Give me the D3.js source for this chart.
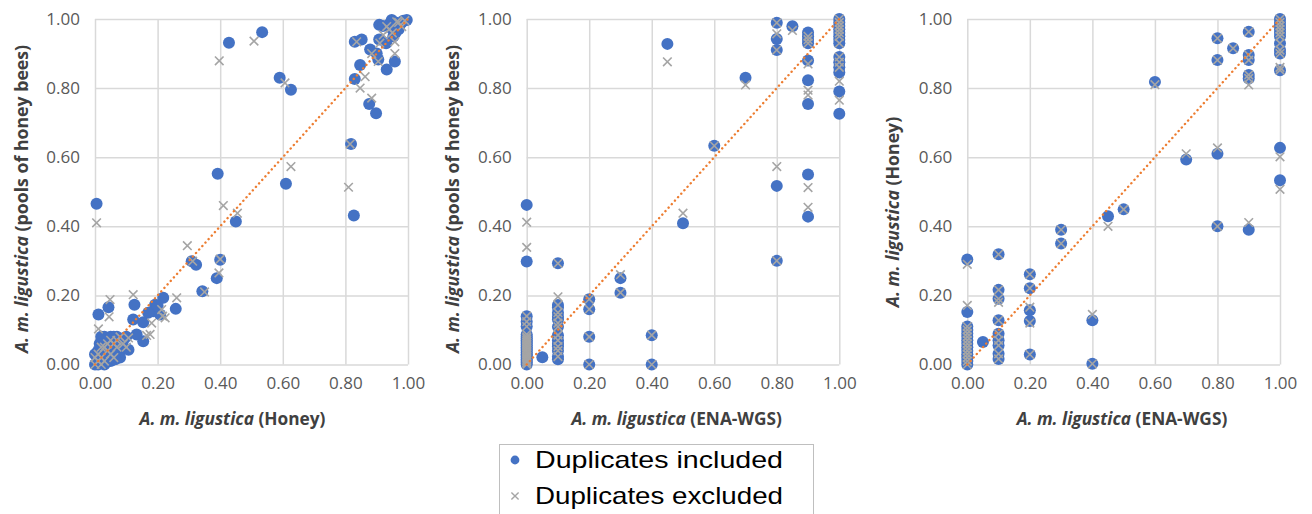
<!DOCTYPE html>
<html><head><meta charset="utf-8">
<script src="https://cdn.jsdelivr.net/npm/d3@7"></script>
<style>
html,body{margin:0;padding:0;background:#fff;}
svg{display:block;}
</style></head>
<body>
<svg id="chart" width="1312" height="514"></svg>
<script>
// ---------------- DATA ----------------
const tickValues = [0, 0.2, 0.4, 0.6, 0.8, 1.0];
const seriesNames = ["Duplicates included", "Duplicates excluded"];
const trendX = [0, 1];
const trendY = [0, 1];

const xTitles = ["(Honey)", "(ENA-WGS)", "(ENA-WGS)"];
const yTitles = ["(pools of honey bees)", "(pools of honey bees)", "(Honey)"];

// Panel 1: Honey (x) vs pools of honey bees (y)
const p1Included = [
 [0,0],[0.005,0.005],[0.01,0.01],[0.01,0.02],[0.02,0.01],[0.02,0.03],[0.03,0.02],[0.03,0.04],[0.04,0.03],[0.04,0.05],
 [0.05,0.04],[0.05,0.06],[0.06,0.05],[0.06,0.07],[0.07,0.06],[0.07,0.08],[0.08,0.07],[0.03,0.06],[0.04,0.07],[0.05,0.08],
 [0.02,0.05],[0.06,0.03],[0.08,0.04],[0.09,0.05],[0.01,0.04],[0.015,0.06],[0.03,0.08],[0.06,0.08],[0.07,0.03],[0.08,0.02],
 [0.04,0.01],[0.09,0.07],[0.1,0.08],[0,0.03],[0.01,0],[0.03,0],[0.05,0.01],[0.065,0.015],[0.02,0.08],
 [0.011,0.145],[0.043,0.166],[0.107,0.043],[0.122,0.13],[0.126,0.173],[0.133,0.087],[0.154,0.067],[0.154,0.122],
 [0.186,0.154],[0.192,0.173],[0.208,0.145],[0.218,0.193],[0.258,0.161],[0.2,0.17],[0.17,0.15],
 [0.309,0.299],[0.323,0.289],[0.343,0.212],[0.389,0.25],[0.4,0.303],[0.45,0.414],[0.392,0.552],[0.61,0.523],
 [0.827,0.431],[0.818,0.638],[0.005,0.465],[0.428,0.931],[0.534,0.962],[0.59,0.83],[0.626,0.795],
 [0.83,0.826],[0.847,0.867],[0.83,0.934],[0.852,0.941],[0.876,0.754],[0.898,0.727],[0.905,0.883],[0.879,0.912],
 [0.908,0.941],[0.908,0.983],[0.932,0.854],[0.958,0.877],[0.953,0.949],[0.964,0.968],[0.948,0.997],[0.996,0.997],
 [0.974,0.983],[0.96,0.99],[0.97,0.98],[0.98,0.99],[0.92,0.98],[0.95,0.97],[0.97,0.97],[0.9,0.9],[0.93,0.93],
 [0.96,0.96],[0.985,0.995],[0.94,0.985]
];
const p1Excluded = [
 [0,0],[0.01,0.01],[0.02,0.02],[0.03,0.01],[0.01,0.03],[0.04,0.04],[0.05,0.03],[0.03,0.05],[0.06,0.06],[0.07,0.05],
 [0.05,0.07],[0.08,0.08],[0.02,0.05],[0.06,0.02],[0.09,0.06],[0.04,0.06],[0.07,0.07],[0,0.02],[0.02,0],[0.1,0.05],
 [0.005,0.41],[0.397,0.879],[0.508,0.936],[0.607,0.815],[0.626,0.573],[0.81,0.513],[0.815,0.638],[0.41,0.46],
 [0.455,0.438],[0.295,0.344],[0.312,0.299],[0.4,0.305],[0.396,0.265],[0.35,0.21],[0.261,0.193],[0.216,0.14],
 [0.181,0.12],[0.176,0.087],[0.122,0.202],[0.048,0.188],[0.045,0.138],[0.011,0.103],[0.213,0.159],[0.224,0.135],
 [0.165,0.084],[0.107,0.077],
 [0.836,0.934],[0.921,0.954],[0.958,0.934],[0.91,0.93],[0.884,0.9],[0.905,0.877],[0.958,0.9],[0.863,0.833],
 [0.847,0.8],[0.884,0.771],[0.964,0.992],[0.98,0.978],[0.932,0.978],[0.95,0.96],[0.97,0.99],[0.99,0.995],[0.94,0.97]
];

// Panel 2: ENA-WGS (x) vs pools of honey bees (y)
const p2Included = [
 [0,0.462],[0,0.298],[0,0.14],[0,0.124],[0,0.11],[0,0.087],[0,0.08],[0,0.075],[0,0.07],[0,0.065],[0,0.06],[0,0.055],
 [0,0.05],[0,0.045],[0,0.04],[0,0.035],[0,0.03],[0,0.025],[0,0.02],[0,0.015],[0,0.01],[0,0.005],[0,0],
 [0.05,0.021],
 [0.1,0.293],[0.1,0.172],[0.1,0.165],[0.1,0.15],[0.1,0.138],[0.1,0.13],[0.1,0.109],[0.1,0.085],[0.1,0.07],[0.1,0.06],
 [0.1,0.052],[0.1,0.04],[0.1,0.023],[0.1,0.015],
 [0.2,0.189],[0.2,0.16],[0.2,0.08],[0.2,0],
 [0.3,0.25],[0.3,0.208],
 [0.4,0.085],[0.4,0],
 [0.45,0.928],[0.5,0.409],[0.6,0.633],[0.7,0.83],
 [0.8,0.989],[0.8,0.942],[0.8,0.91],[0.8,0.517],[0.8,0.3],
 [0.85,0.979],
 [0.9,0.961],[0.9,0.95],[0.9,0.94],[0.9,0.93],[0.9,0.88],[0.9,0.823],[0.9,0.754],[0.9,0.55],[0.9,0.428],
 [1,1],[1,0.99],[1,0.98],[1,0.97],[1,0.96],[1,0.95],[1,0.94],[1,0.93],[1,0.89],[1,0.875],[1,0.86],[1,0.845],
 [1,0.79],[1,0.726]
];
const p2Excluded = [
 [0,0.412],[0,0.339],[0,0.14],[0,0.124],[0,0.11],[0,0.087],[0,0.08],[0,0.075],[0,0.07],[0,0.065],[0,0.06],[0,0.055],
 [0,0.05],[0,0.045],[0,0.04],[0,0.035],[0,0.03],[0,0.025],[0,0.02],[0,0.015],[0,0.01],[0,0.005],[0,0],
 [0.1,0.293],[0.1,0.196],[0.1,0.172],[0.1,0.15],[0.1,0.138],[0.1,0.12],[0.1,0.109],[0.1,0.085],[0.1,0.07],
 [0.1,0.052],[0.1,0.04],[0.1,0.023],
 [0.2,0.189],[0.2,0.16],[0.2,0.08],[0.2,0],
 [0.3,0.26],[0.3,0.208],
 [0.4,0.085],[0.4,0],
 [0.45,0.876],[0.5,0.438],[0.6,0.633],[0.7,0.809],
 [0.8,0.989],[0.8,0.957],[0.8,0.91],[0.8,0.573],[0.8,0.3],
 [0.85,0.967],
 [0.9,0.95],[0.9,0.94],[0.9,0.93],[0.9,0.87],[0.9,0.794],[0.9,0.78],[0.9,0.512],[0.9,0.455],
 [1,1],[1,0.99],[1,0.98],[1,0.97],[1,0.96],[1,0.95],[1,0.93],[1,0.89],[1,0.875],[1,0.86],[1,0.82],[1,0.765]
];

// Panel 3: ENA-WGS (x) vs Honey (y)
const p3Included = [
 [0,0.304],[0,0.152],[0,0.11],[0,0.1],[0,0.09],[0,0.08],[0,0.07],[0,0.06],[0,0.05],[0,0.04],[0,0.03],[0,0.02],
 [0,0.01],[0,0],
 [0.05,0.065],
 [0.1,0.319],[0.1,0.216],[0.1,0.19],[0.1,0.128],[0.1,0.089],[0.1,0.07],[0.1,0.055],[0.1,0.031],[0.1,0.016],
 [0.2,0.261],[0.2,0.221],[0.2,0.157],[0.2,0.126],[0.2,0.029],
 [0.3,0.39],[0.3,0.35],
 [0.4,0.128],[0.4,0.002],
 [0.45,0.429],[0.5,0.449],[0.6,0.818],[0.7,0.593],
 [0.8,0.944],[0.8,0.881],[0.8,0.61],[0.8,0.4],
 [0.85,0.915],
 [0.9,0.963],[0.9,0.896],[0.9,0.881],[0.9,0.838],[0.9,0.828],[0.9,0.39],
 [1,1],[1,0.99],[1,0.98],[1,0.97],[1,0.96],[1,0.95],[1,0.93],[1,0.91],[1,0.9],[1,0.852],[1,0.627],[1,0.533]
];
const p3Excluded = [
 [0,0.29],[0,0.171],[0,0.11],[0,0.1],[0,0.09],[0,0.08],[0,0.07],[0,0.06],[0,0.05],[0,0.04],[0,0.03],[0,0.02],
 [0,0.01],[0,0],
 [0.1,0.319],[0.1,0.216],[0.1,0.19],[0.1,0.18],[0.1,0.128],[0.1,0.089],[0.1,0.07],[0.1,0.055],[0.1,0.031],[0.1,0.016],
 [0.2,0.261],[0.2,0.221],[0.2,0.166],[0.2,0.12],[0.2,0.029],
 [0.3,0.39],[0.3,0.35],
 [0.4,0.145],[0.4,0.002],
 [0.45,0.4],[0.5,0.449],[0.6,0.81],[0.7,0.61],
 [0.8,0.944],[0.8,0.881],[0.8,0.627],[0.8,0.4],
 [0.85,0.915],
 [0.9,0.963],[0.9,0.896],[0.9,0.881],[0.9,0.838],[0.9,0.828],[0.9,0.809],[0.9,0.411],
 [1,1],[1,0.99],[1,0.98],[1,0.97],[1,0.96],[1,0.95],[1,0.93],[1,0.91],[1,0.9],[1,0.86],[1,0.852],[1,0.601],[1,0.507]
];

// ---------------- LAYOUT / STYLE ----------------
const panels = [
  {x0: 95,    x1: 408,    inc: p1Included, exc: p1Excluded, yTitleX: 28,  yTitleY: 199, xTitleX: 232.5},
  {x0: 526.7, x1: 839.3,  inc: p2Included, exc: p2Excluded, yTitleX: 459, yTitleY: 199, xTitleX: 676.7},
  {x0: 967.3, x1: 1280,   inc: p3Included, exc: p3Excluded, yTitleX: 899, yTitleY: 212, xTitleX: 1122}
];
const yTop = 19, yBottom = 364.5;
const BLUE = "#4472c4", GREY = "#a5a5a5", ORANGE = "#ed7d31", GRID = "#d9d9d9";
const FONT = "'Open Sans', 'Noto Sans', sans-serif";

const svg = d3.select("#chart");

panels.forEach((p, i) => {
  const x = d3.scaleLinear().domain([0, 1]).range([p.x0, p.x1]);
  const y = d3.scaleLinear().domain([0, 1]).range([yBottom, yTop]);
  const g = svg.append("g");

  // gridlines + tick labels
  const gx = g.append("g").attr("transform", `translate(0,${yBottom})`)
    .call(d3.axisBottom(x).tickValues(tickValues).tickSize(-(yBottom - yTop)).tickFormat(d3.format(".2f")).tickPadding(12));
  const gy = g.append("g").attr("transform", `translate(${p.x0},0)`)
    .call(d3.axisLeft(y).tickValues(tickValues).tickSize(-(p.x1 - p.x0)).tickFormat(d3.format(".2f")).tickPadding(15));
  [gx, gy].forEach(a => {
    a.select(".domain").remove();
    a.selectAll(".tick line").attr("stroke", GRID).attr("stroke-width", 1.5);
    a.selectAll(".tick text").attr("fill", "#595959").style("font-family", FONT).style("font-size", "17px");
  });
  gx.selectAll(".tick text").attr("dy", "0.71em");

  // included (blue circles)
  g.append("g").selectAll("circle").data(p.inc).join("circle")
    .attr("cx", d => x(d[0])).attr("cy", d => y(d[1])).attr("r", 6).attr("fill", BLUE);

  // excluded (grey crosses)
  const s = 4.3;
  g.append("g").selectAll("path").data(p.exc).join("path")
    .attr("d", d => {
      const cx = x(d[0]), cy = y(d[1]);
      return `M${cx - s},${cy - s}L${cx + s},${cy + s}M${cx - s},${cy + s}L${cx + s},${cy - s}`;
    })
    .attr("stroke", GREY).attr("stroke-width", 1.6).attr("fill", "none");

  // trendline
  g.append("line")
    .attr("x1", x(trendX[0])).attr("y1", y(trendY[0]))
    .attr("x2", x(trendX[1])).attr("y2", y(trendY[1]))
    .attr("stroke", ORANGE).attr("stroke-width", 2.4)
    .attr("stroke-dasharray", "0.1,4.6").attr("stroke-linecap", "round");

  // x title
  const xt = g.append("text")
    .attr("x", p.xTitleX).attr("y", 425)
    .attr("text-anchor", "middle").attr("fill", "#404040")
    .style("font-family", FONT).style("font-size", "17.3px").style("font-weight", "bold");
  xt.append("tspan").style("font-style", "italic").text("A. m. ligustica");
  xt.append("tspan").text(" " + xTitles[i]);

  // y title
  const yt = g.append("text")
    .attr("transform", `translate(${p.yTitleX},${p.yTitleY}) rotate(-90)`)
    .attr("text-anchor", "middle").attr("fill", "#404040")
    .style("font-family", FONT).style("font-size", "17.7px").style("font-weight", "bold");
  yt.append("tspan").style("font-style", "italic").text("A. m. ligustica");
  yt.append("tspan").text(" " + yTitles[i]);
});

// ---------------- LEGEND ----------------
const lg = svg.append("g");
lg.append("rect").attr("x", 499.5).attr("y", 444.5).attr("width", 314).attr("height", 80)
  .attr("fill", "#fff").attr("stroke", "#bfbfbf").attr("stroke-width", 1);
const legendRows = [468, 504];
seriesNames.forEach((name, k) => {
  const cy = legendRows[k] - 8;
  if (k === 0) {
    lg.append("circle").attr("cx", 515).attr("cy", cy).attr("r", 4.4).attr("fill", BLUE);
  } else {
    const s = 3.6;
    lg.append("path").attr("d", `M${515 - s},${cy - s}L${515 + s},${cy + s}M${515 - s},${cy + s}L${515 + s},${cy - s}`)
      .attr("stroke", GREY).attr("stroke-width", 1.4);
  }
  lg.append("text").attr("x", 535).attr("y", legendRows[k])
    .attr("textLength", 248).attr("lengthAdjust", "spacingAndGlyphs")
    .style("font-family", "'Liberation Sans', Arial, sans-serif").style("font-size", "24px")
    .attr("fill", "#000").text(name);
});
</script>
</body></html>
